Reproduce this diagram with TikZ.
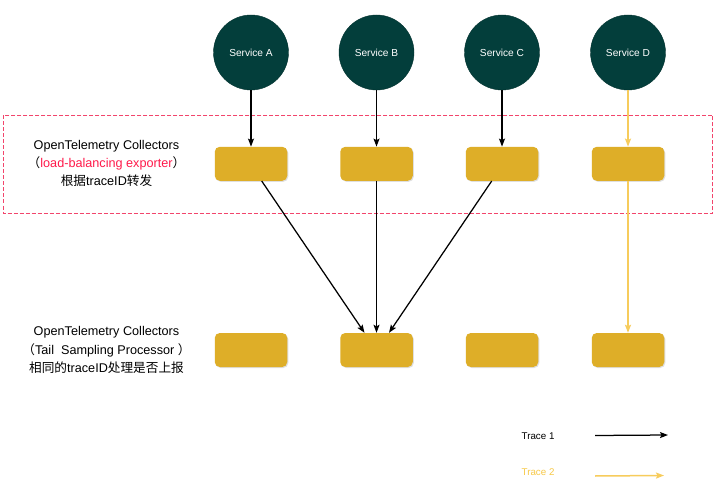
\documentclass[tikz,border=0pt]{standalone}
\usepackage{fontspec}
\setmainfont{Liberation Sans}
\newfontfamily\cjk{Noto Sans CJK SC}
\usetikzlibrary{arrows.meta,shadows}
\definecolor{svcteal}{HTML}{033E3B}
\definecolor{gold}{HTML}{DEAE28}
\definecolor{ylw}{HTML}{F7CC5C}
\definecolor{ylwtxt}{HTML}{F7C948}
\definecolor{reddash}{HTML}{F2456C}
\definecolor{redtxt}{HTML}{FF1A4B}
\tikzset{
  svc/.style={circle,fill=svcteal,draw=svcteal!80!black,line width=0.4bp,minimum size=75bp,inner sep=0pt,text=white,font=\fontsize{10.2}{12}\selectfont},
  coll/.style={rectangle,rounded corners=5bp,fill=gold,minimum width=72.5bp,minimum height=34bp,inner sep=0pt,
    drop shadow={shadow xshift=1bp,shadow yshift=-1bp,opacity=0.25,fill=gray}},
  lbl/.style={align=center,font=\fontsize{12.7}{18.5}\selectfont,inner sep=0pt},
  blk/.style={draw=black,line width=1.25bp,-{Stealth[length=8bp,width=6bp,inset=1.5bp]}},
  yel/.style={draw=ylw,line width=1.5bp,-{Stealth[length=8bp,width=6bp,inset=1.5bp]}},
  leg/.style={anchor=west,inner sep=0pt,font=\fontsize{9.8}{11}\selectfont},
  zone/.style={draw=reddash,line width=1.2bp,dash pattern=on 4bp off 2bp}
}
\begin{document}
\begin{tikzpicture}[x=1bp,y=-1bp]
\useasboundingbox[fill=white] (0,0) rectangle (724,493);
% dashed region
\draw[zone] (3.5,115.5) rectangle (712.5,213.5);
% services
\node[svc] (sA) at (251,52.5) {Service A};
\node[svc] (sB) at (376.5,52.5) {Service B};
\node[svc] (sC) at (502,52.5) {Service C};
\node[svc] (sD) at (628,52.5) {Service D};
% collectors row 1
\node[coll] (pA) at (251,163.8) {};
\node[coll] (pB) at (376.5,163.8) {};
\node[coll] (pC) at (502,163.8) {};
\node[coll] (pD) at (628,163.8) {};
% collectors row 2
\node[coll] (qA) at (251,350) {};
\node[coll] (qB) at (376.5,350) {};
\node[coll] (qC) at (502,350) {};
\node[coll] (qD) at (628,350) {};
% labels
\node[lbl] (l1) at (106.5,163.5) {OpenTelemetry Collectors\\{\cjk （}\textcolor{redtxt}{load-balancing exporter}{\cjk ）}\\{\cjk 根据}traceID{\cjk 转发}};
\node[lbl] (l2) at (106.5,350.3) {OpenTelemetry Collectors\\{\cjk （}Tail~~Sampling Processor~{\cjk ）}\\{\cjk 相同的}traceID{\cjk 处理是否上报}};
% arrows
\draw[blk] (sA) -- (pA);
\draw[blk] (sB) -- (pB);
\draw[blk] (sC) -- (pC);
\draw[yel] (sD) -- (pD);
\draw[blk] ([xshift=10.7bp]pA.south) -- ([xshift=-12bp]qB.north);
\draw[blk] (pB) -- (qB);
\draw[blk] ([xshift=-10.3bp]pC.south) -- ([xshift=12.5bp]qB.north);
\draw[yel] (pD) -- (qD);
% legend
\node[leg] (t1) at (521.5,436) {Trace 1};
\node[leg,text=ylwtxt] (t2) at (521.5,472) {Trace 2};
\coordinate (a1s) at (595,435.5);
\coordinate (a1e) at (668,435);
\coordinate (a2s) at (595,476);
\coordinate (a2e) at (664,475.5);
\draw[blk] (a1s) -- (a1e);
\draw[yel] (a2s) -- (a2e);
\end{tikzpicture}
\end{document}
